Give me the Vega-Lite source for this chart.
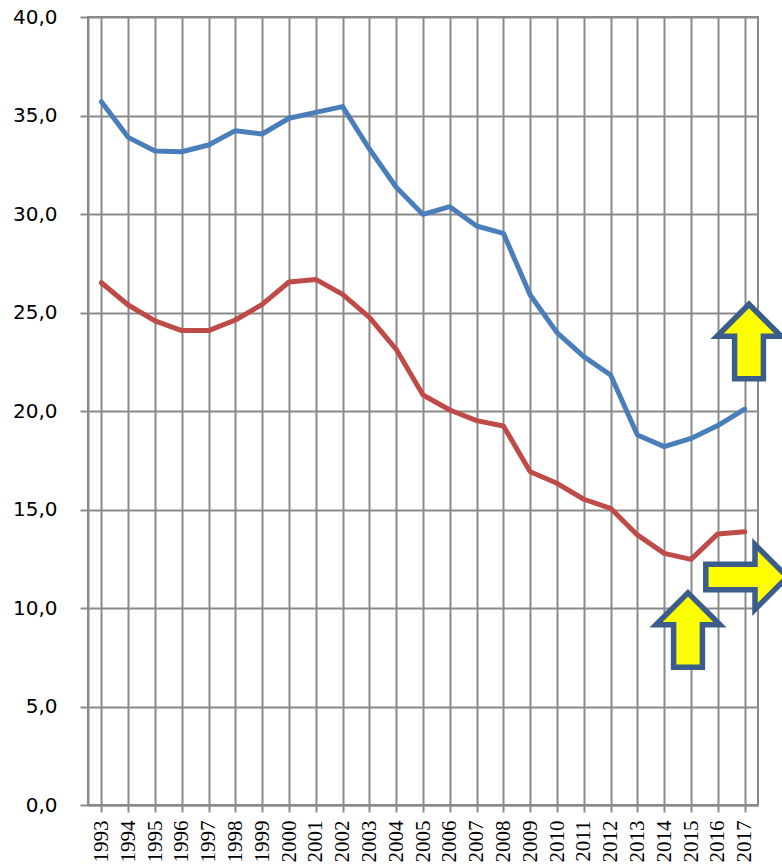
{
  "$schema": "https://vega.github.io/schema/vega-lite/v6.json",
  "autosize": {"type": "none"},
  "width": 670,
  "height": 788,
  "padding": {"left": 88, "top": 17, "right": 24, "bottom": 60},
  "background": "white",
  "config": {
    "view": {"stroke": "#8a8a8a", "strokeWidth": 2},
    "axis": {"gridColor": "#8a8a8a", "gridWidth": 2, "gridOpacity": 1, "domainColor": "#8a8a8a", "domainWidth": 2, "tickColor": "#8a8a8a", "tickWidth": 2, "labelColor": "#000000", "title": null}
  },
  "datasets": {
    "series": [
      {"year": "1993", "series": "1", "value": 35.70},
      {"year": "1994", "series": "1", "value": 33.89},
      {"year": "1995", "series": "1", "value": 33.20},
      {"year": "1996", "series": "1", "value": 33.16},
      {"year": "1997", "series": "1", "value": 33.50},
      {"year": "1998", "series": "1", "value": 34.23},
      {"year": "1999", "series": "1", "value": 34.06},
      {"year": "2000", "series": "1", "value": 34.86},
      {"year": "2001", "series": "1", "value": 35.16},
      {"year": "2002", "series": "1", "value": 35.45},
      {"year": "2003", "series": "1", "value": 33.30},
      {"year": "2004", "series": "1", "value": 31.36},
      {"year": "2005", "series": "1", "value": 29.98},
      {"year": "2006", "series": "1", "value": 30.37},
      {"year": "2007", "series": "1", "value": 29.39},
      {"year": "2008", "series": "1", "value": 29.02},
      {"year": "2009", "series": "1", "value": 25.89},
      {"year": "2010", "series": "1", "value": 23.98},
      {"year": "2011", "series": "1", "value": 22.76},
      {"year": "2012", "series": "1", "value": 21.83},
      {"year": "2013", "series": "1", "value": 18.78},
      {"year": "2014", "series": "1", "value": 18.19},
      {"year": "2015", "series": "1", "value": 18.61},
      {"year": "2016", "series": "1", "value": 19.26},
      {"year": "2017", "series": "1", "value": 20.10},
      {"year": "1993", "series": "2", "value": 26.51},
      {"year": "1994", "series": "2", "value": 25.38},
      {"year": "1995", "series": "2", "value": 24.57},
      {"year": "1996", "series": "2", "value": 24.08},
      {"year": "1997", "series": "2", "value": 24.08},
      {"year": "1998", "series": "2", "value": 24.62},
      {"year": "1999", "series": "2", "value": 25.41},
      {"year": "2000", "series": "2", "value": 26.55},
      {"year": "2001", "series": "2", "value": 26.68},
      {"year": "2002", "series": "2", "value": 25.92},
      {"year": "2003", "series": "2", "value": 24.75},
      {"year": "2004", "series": "2", "value": 23.13},
      {"year": "2005", "series": "2", "value": 20.81},
      {"year": "2006", "series": "2", "value": 20.05},
      {"year": "2007", "series": "2", "value": 19.51},
      {"year": "2008", "series": "2", "value": 19.24},
      {"year": "2009", "series": "2", "value": 16.92},
      {"year": "2010", "series": "2", "value": 16.33},
      {"year": "2011", "series": "2", "value": 15.52},
      {"year": "2012", "series": "2", "value": 15.06},
      {"year": "2013", "series": "2", "value": 13.71},
      {"year": "2014", "series": "2", "value": 12.77},
      {"year": "2015", "series": "2", "value": 12.47},
      {"year": "2016", "series": "2", "value": 13.76},
      {"year": "2017", "series": "2", "value": 13.87}
    ],
    "upTop": [{"year": "2017", "value": 23.53}],
    "upBottom": [{"year": "2015", "value": 8.88}],
    "right": [{"year": "2017", "value": 11.57}]
  },
  "encoding": {
    "x": {
      "field": "year", "type": "ordinal",
      "scale": {"paddingInner": 0, "paddingOuter": 0},
      "axis": {"bandPosition": 0, "grid": true, "labelAngle": -90, "labelFont": "Liberation Sans Narrow", "labelFontSize": 21, "tickSize": 7, "labelPadding": 8}
    },
    "y": {
      "field": "value", "type": "quantitative",
      "scale": {"domain": [0, 40], "nice": false, "zero": true},
      "axis": {"values": [0, 5, 10, 15, 20, 25, 30, 35, 40], "grid": true, "labelExpr": "replace(format(datum.value, '.1f'), '.', ',')", "labelFont": "DejaVu Sans", "labelFontSize": 20, "tickSize": 8, "labelPadding": 23}
    }
  },
  "layer": [
    {
      "data": {"name": "series"},
      "mark": {"type": "line", "strokeWidth": 5, "strokeJoin": "round", "strokeCap": "round"},
      "encoding": {
        "color": {"field": "series", "type": "nominal", "scale": {"domain": ["1", "2"], "range": ["#4a7ebb", "#be4b48"]}, "legend": null}
      }
    },
    {
      "data": {"name": "upTop"},
      "mark": {"type": "point", "filled": true, "opacity": 1, "fill": "#ffff00", "stroke": "#3b5d8c", "strokeWidth": 5.5, "strokeJoin": "miter", "size": 6400, "shape": "M0.11,-0.93L0.91,-0.13L0.47,-0.13L0.47,0.93L-0.25,0.93L-0.25,-0.13L-0.69,-0.13Z"}
    },
    {
      "data": {"name": "upBottom"},
      "mark": {"type": "point", "filled": true, "opacity": 1, "fill": "#ffff00", "stroke": "#3b5d8c", "strokeWidth": 5.5, "strokeJoin": "miter", "size": 6400, "shape": "M-0.075,-0.93L0.725,-0.13L0.285,-0.13L0.285,0.93L-0.435,0.93L-0.435,-0.13L-0.875,-0.13Z"}
    },
    {
      "data": {"name": "right"},
      "mark": {"type": "point", "filled": true, "opacity": 1, "fill": "#ffff00", "stroke": "#3b5d8c", "strokeWidth": 5.5, "strokeJoin": "miter", "size": 6400, "shape": "M1.07,0L0.26,-0.81L0.26,-0.32L-0.97,-0.32L-0.97,0.32L0.26,0.32L0.26,0.81Z"}
    }
  ]
}
